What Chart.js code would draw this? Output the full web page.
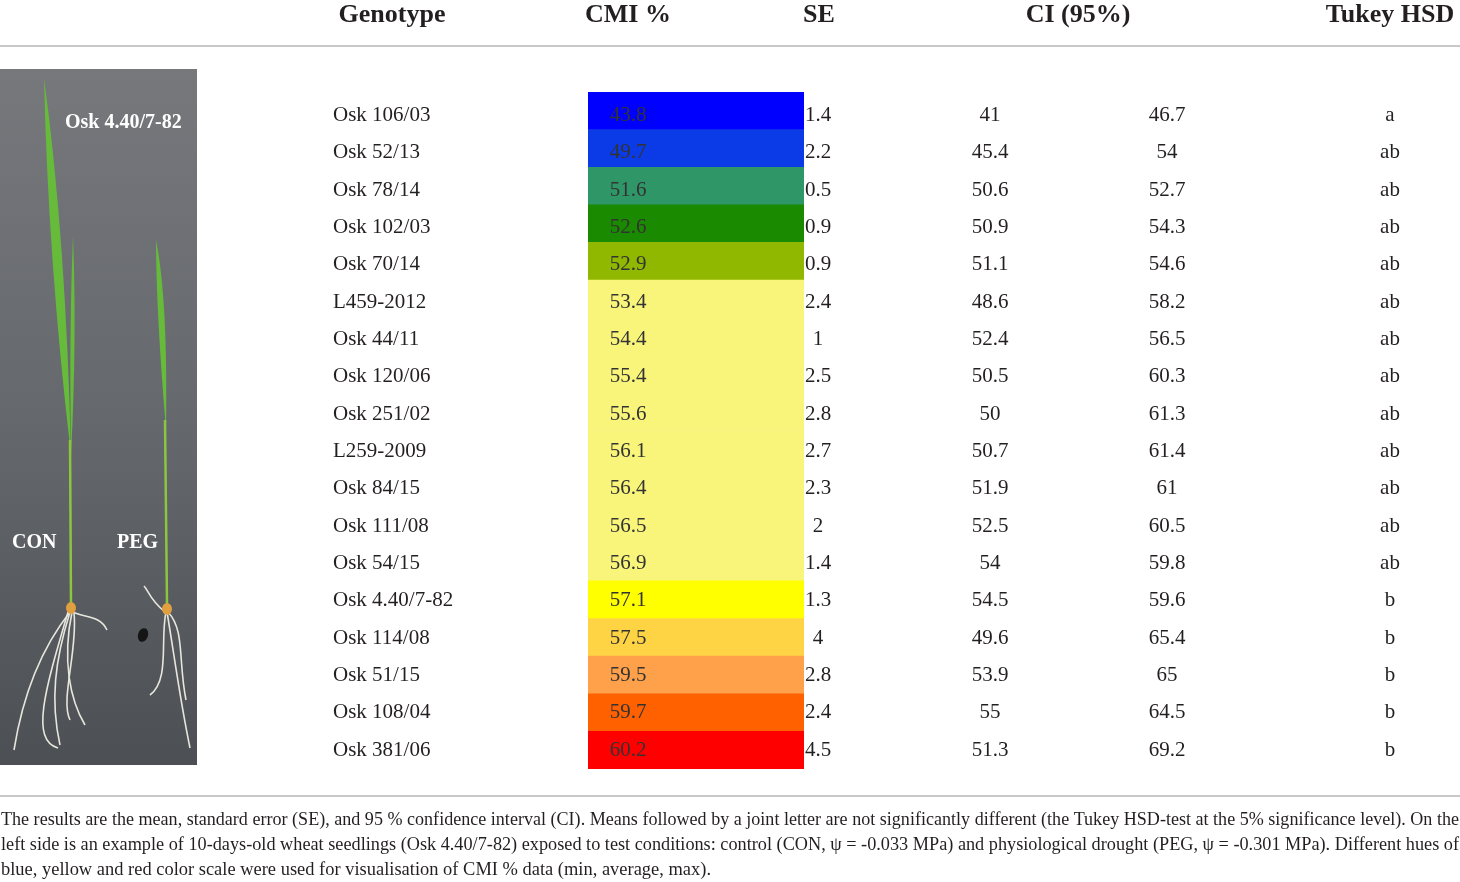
<!DOCTYPE html>
<html lang="en">
<head>
    <meta charset="UTF-8">
    <title>CMI % by genotype</title>
    <script src="https://cdn.jsdelivr.net/npm/chart.js"></script>
    <style>
        body { margin: 0; background: white; }
        #table { display: block; }
    </style>
</head>
<body>
<canvas id="table" width="1460" height="882"></canvas>

<script>
    // table data
    const genotypes = ['Osk 106/03', 'Osk 52/13', 'Osk 78/14', 'Osk 102/03', 'Osk 70/14', 'L459-2012',
        'Osk 44/11', 'Osk 120/06', 'Osk 251/02', 'L259-2009', 'Osk 84/15', 'Osk 111/08', 'Osk 54/15',
        'Osk 4.40/7-82', 'Osk 114/08', 'Osk 51/15', 'Osk 108/04', 'Osk 381/06'];
    const cmi = [43.8, 49.7, 51.6, 52.6, 52.9, 53.4, 54.4, 55.4, 55.6, 56.1, 56.4, 56.5, 56.9, 57.1, 57.5, 59.5, 59.7, 60.2];
    const se = [1.4, 2.2, 0.5, 0.9, 0.9, 2.4, 1, 2.5, 2.8, 2.7, 2.3, 2, 1.4, 1.3, 4, 2.8, 2.4, 4.5];
    const ciLow = [41, 45.4, 50.6, 50.9, 51.1, 48.6, 52.4, 50.5, 50, 50.7, 51.9, 52.5, 54, 54.5, 49.6, 53.9, 55, 51.3];
    const ciHigh = [46.7, 54, 52.7, 54.3, 54.6, 58.2, 56.5, 60.3, 61.3, 61.4, 61, 60.5, 59.8, 59.6, 65.4, 65, 64.5, 69.2];
    const tukey = ['a', 'ab', 'ab', 'ab', 'ab', 'ab', 'ab', 'ab', 'ab', 'ab', 'ab', 'ab', 'ab', 'b', 'b', 'b', 'b', 'b'];
    const cellColors = ['#0000ff', '#0a3be6', '#2f9668', '#1a8a00', '#90b800', '#f8f57a', '#f8f57a', '#f8f57a',
        '#f8f57a', '#f8f57a', '#f8f57a', '#f8f57a', '#f8f57a', '#ffff00', '#ffd444', '#ffa04a', '#ff6000', '#ff0000'];
    const headers = ['Genotype', 'CMI %', 'SE', 'CI (95%)', 'Tukey HSD'];
    const caption = [
        'The results are the mean, standard error (SE), and 95 % confidence interval (CI). Means followed by a joint letter are not significantly different (the Tukey HSD-test at the 5% significance level). On the',
        'left side is an example of 10-days-old wheat seedlings (Osk 4.40/7-82) exposed to test conditions: control (CON, \u03C8 = -0.033 MPa) and physiological drought (PEG, \u03C8 = -0.301 MPa). Different hues of',
        'blue, yellow and red color scale were used for visualisation of CMI % data (min, average, max).'
    ];

    const SERIF = '"Liberation Serif", "DejaVu Serif", serif';
    const INK = '#231f20';

    // rough sketch of the seedling photo on the left
    function drawPhoto(ctx) {
        const g = ctx.createLinearGradient(0, 69, 0, 765);
        g.addColorStop(0, '#76787c');
        g.addColorStop(0.5, '#65686c');
        g.addColorStop(1, '#4c4f54');
        ctx.fillStyle = g;
        ctx.fillRect(0, 69, 197, 696);

        // leaves
        ctx.fillStyle = '#66bb3a';
        ctx.beginPath();
        ctx.moveTo(44, 78);
        ctx.quadraticCurveTo(66, 240, 71, 455);
        ctx.quadraticCurveTo(48, 260, 44, 78);
        ctx.fill();
        ctx.beginPath();
        ctx.moveTo(73, 236);
        ctx.quadraticCurveTo(77, 340, 71, 455);
        ctx.quadraticCurveTo(69, 330, 73, 236);
        ctx.fill();
        ctx.beginPath();
        ctx.moveTo(156, 240);
        ctx.quadraticCurveTo(168, 300, 166, 430);
        ctx.quadraticCurveTo(156, 310, 156, 240);
        ctx.fill();
        // stems
        ctx.strokeStyle = '#8cc63f';
        ctx.lineWidth = 2.5;
        ctx.beginPath();
        ctx.moveTo(70, 440); ctx.lineTo(71, 604);
        ctx.moveTo(165, 420); ctx.lineTo(167, 604);
        ctx.stroke();

        // roots
        ctx.strokeStyle = '#e6e6dc';
        ctx.lineWidth = 1.6;
        const roots = [
            [[70, 612], [40, 650], [22, 700], [14, 750]],
            [[70, 612], [55, 660], [50, 700], [60, 745]],
            [[68, 612], [45, 690], [30, 740], [58, 748]],
            [[72, 612], [62, 660], [70, 700], [85, 725]],
            [[73, 612], [85, 618], [100, 615], [107, 630]],
            [[74, 613], [78, 650], [60, 700], [70, 720]],
            [[166, 612], [160, 640], [170, 680], [150, 695]],
            [[167, 612], [175, 660], [180, 700], [190, 748]],
            [[168, 612], [185, 630], [178, 660], [186, 700]],
            [[165, 612], [150, 600], [148, 590], [144, 586]]
        ];
        roots.forEach(r => {
            ctx.beginPath();
            ctx.moveTo(r[0][0], r[0][1]);
            ctx.bezierCurveTo(r[1][0], r[1][1], r[2][0], r[2][1], r[3][0], r[3][1]);
            ctx.stroke();
        });
        // seeds
        ctx.fillStyle = '#e0a040';
        ctx.beginPath();
        ctx.ellipse(71, 608, 5, 6, 0, 0, Math.PI * 2);
        ctx.ellipse(167, 609, 5, 6, 0, 0, Math.PI * 2);
        ctx.fill();
        ctx.fillStyle = '#151515';
        ctx.beginPath();
        ctx.ellipse(143, 635, 5, 7, 0.3, 0, Math.PI * 2);
        ctx.fill();

        ctx.fillStyle = 'white';
        ctx.font = 'bold 20px ' + SERIF;
        ctx.textAlign = 'left';
        ctx.textBaseline = 'alphabetic';
        ctx.fillText('Osk 4.40/7-82', 65, 128);
        ctx.fillText('CON', 12, 548);
        ctx.fillText('PEG', 117, 548);
    }

    const tablePlugin = {
        id: 'tableText',
        beforeDraw(chart) {
            drawPhoto(chart.ctx);
        },
        afterDatasetsDraw(chart) {
            const ctx = chart.ctx;
            const y = chart.scales.y;
            ctx.save();

            // header
            ctx.fillStyle = INK;
            ctx.font = 'bold 26px ' + SERIF;
            ctx.textAlign = 'center';
            ctx.textBaseline = 'alphabetic';
            [392, 628, 819, 1078, 1390].forEach((x, i) => ctx.fillText(headers[i], x, 22));

            // rules
            ctx.strokeStyle = '#c8c8c8';
            ctx.lineWidth = 2;
            ctx.beginPath();
            ctx.moveTo(0, 46); ctx.lineTo(1460, 46);
            ctx.moveTo(0, 796); ctx.lineTo(1460, 796);
            ctx.stroke();

            // body rows (text sits a touch tighter than the cells in the original)
            ctx.font = '21px ' + SERIF;
            genotypes.forEach((name, i) => {
                const yy = y.getPixelForValue(i) + 10 - i * 0.26;
                ctx.fillStyle = INK;
                ctx.textAlign = 'left';
                ctx.fillText(name, 333, yy);
                ctx.textAlign = 'center';
                ctx.fillStyle = '#333';
                ctx.fillText(cmi[i].toString(), 628, yy);
                ctx.fillStyle = INK;
                ctx.fillText(se[i].toString(), 818, yy);
                ctx.fillText(ciLow[i].toString(), 990, yy);
                ctx.fillText(ciHigh[i].toString(), 1167, yy);
                ctx.fillText(tukey[i], 1390, yy);
            });

            // caption, squeezed to the widths in the figure
            ctx.font = '18.5px ' + SERIF;
            ctx.textAlign = 'left';
            const widths = [1458, 1458, 710];
            caption.forEach((line, i) => {
                const w = ctx.measureText(line).width;
                ctx.save();
                ctx.translate(1, 825 + i * 25);
                ctx.scale(widths[i] / w, 1);
                ctx.fillText(line, 0, 0);
                ctx.restore();
            });
            ctx.restore();
        }
    };

    new Chart(document.getElementById('table'), {
        type: 'bar',
        data: {
            labels: genotypes,
            datasets: [{
                data: genotypes.map(() => 1),
                backgroundColor: cellColors,
                borderWidth: 0,
                barPercentage: 1,
                categoryPercentage: 1
            }]
        },
        options: {
            indexAxis: 'y',
            responsive: false,
            animation: false,
            devicePixelRatio: 1,
            layout: { padding: { left: 588, right: 656, top: 92, bottom: 113 } },
            scales: {
                x: { display: false, min: 0, max: 1 },
                y: { display: false }
            },
            plugins: {
                legend: { display: false },
                tooltip: { enabled: false }
            }
        },
        plugins: [tablePlugin]
    });
</script>
</body>
</html>
